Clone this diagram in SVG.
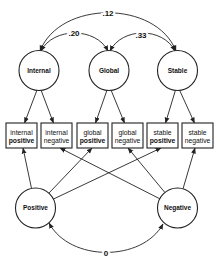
<svg xmlns="http://www.w3.org/2000/svg" width="220" height="265" viewBox="0 0 220 265">
<style>
text{font-family:"Liberation Sans",Arial,sans-serif;fill:#111;text-anchor:middle}
.lat{fill:#fff;stroke:#222;stroke-width:1.1}
.box{fill:#fff;stroke:#222;stroke-width:1.1}
.ln{fill:none;stroke:#222;stroke-width:0.9}
.cl{font-size:6.5px;font-weight:bold}
.bx{font-size:6.8px}
.b{font-weight:bold}
.num{font-size:8px;font-weight:bold;stroke:#fff;stroke-width:4;paint-order:stroke}
</style>
<defs>
<marker id="ah" markerUnits="userSpaceOnUse" markerWidth="6" markerHeight="6" viewBox="0 0 6 6" refX="5.5" refY="3" orient="auto-start-reverse">
<path d="M0,0.6 L6,3 L0,5.4 Z" fill="#222"/>
</marker>
</defs>
<g id="connectors">
<path class="ln" d="M40,51 C60,0 156,0 176,51" marker-start="url(#ah)" marker-end="url(#ah)"/>
<path class="ln" d="M41,51 C53,27 96,27 108,51" marker-start="url(#ah)" marker-end="url(#ah)"/>
<path class="ln" d="M110,51 C122,27 163,27 175,51" marker-start="url(#ah)" marker-end="url(#ah)"/>
<path class="ln" d="M49,223 C70,262 142,262 163,224" marker-start="url(#ah)" marker-end="url(#ah)"/>
<path class="ln" d="M37,90 L24.5,123" marker-end="url(#ah)"/>
<path class="ln" d="M41,90 L53.5,123" marker-end="url(#ah)"/>
<path class="ln" d="M107,90 L95.5,123" marker-end="url(#ah)"/>
<path class="ln" d="M111,90 L124.5,123" marker-end="url(#ah)"/>
<path class="ln" d="M175.5,90 L165.5,123" marker-end="url(#ah)"/>
<path class="ln" d="M179.5,90 L194.5,123" marker-end="url(#ah)"/>
<path class="ln" d="M31.5,188.4 L23,148" marker-end="url(#ah)"/>
<path class="ln" d="M49,193 L92,148" marker-end="url(#ah)"/>
<path class="ln" d="M53.5,199 L161,148" marker-end="url(#ah)"/>
<path class="ln" d="M159.8,198.8 L60,148" marker-end="url(#ah)"/>
<path class="ln" d="M164.9,192.5 L128,148" marker-end="url(#ah)"/>
<path class="ln" d="M183,188.8 L195,148" marker-end="url(#ah)"/>
<text class="num" x="108" y="16">.12</text>
<text class="num" x="74" y="36">.20</text>
<text class="num" x="141" y="38">.33</text>
<text class="num" x="106" y="256">0</text>
</g>
<g id="internal"><circle class="lat" cx="39" cy="70.5" r="20"/><text class="cl" x="39" y="72.8">Internal</text></g>
<g id="global"><circle class="lat" cx="109" cy="70.5" r="20"/><text class="cl" x="109" y="72.8">Global</text></g>
<g id="stable"><circle class="lat" cx="177.5" cy="70.5" r="20"/><text class="cl" x="177.5" y="72.8">Stable</text></g>
<g id="positive"><circle class="lat" cx="35.5" cy="208" r="20"/><text class="cl" x="35.5" y="210.3">Positive</text></g>
<g id="negative"><circle class="lat" cx="177.5" cy="208" r="20"/><text class="cl" x="177.5" y="210.3">Negative</text></g>
<g id="internal-positive"><rect class="box" x="6" y="123" width="31" height="25"/><text class="bx" x="21.5" y="134.5">internal</text><text class="bx b" x="21.5" y="142.5">positive</text></g>
<g id="internal-negative"><rect class="box" x="41" y="123" width="31" height="25"/><text class="bx" x="56.5" y="134.5">internal</text><text class="bx" x="56.5" y="142.5">negative</text></g>
<g id="global-positive"><rect class="box" x="77" y="123" width="31" height="25"/><text class="bx" x="92.5" y="134.5">global</text><text class="bx b" x="92.5" y="142.5">positive</text></g>
<g id="global-negative"><rect class="box" x="112" y="123" width="31" height="25"/><text class="bx" x="127.5" y="134.5">global</text><text class="bx" x="127.5" y="142.5">negative</text></g>
<g id="stable-positive"><rect class="box" x="147" y="123" width="31" height="25"/><text class="bx" x="162.5" y="134.5">stable</text><text class="bx b" x="162.5" y="142.5">positive</text></g>
<g id="stable-negative"><rect class="box" x="182" y="123" width="31" height="25"/><text class="bx" x="197.5" y="134.5">stable</text><text class="bx" x="197.5" y="142.5">negative</text></g>
</svg>
